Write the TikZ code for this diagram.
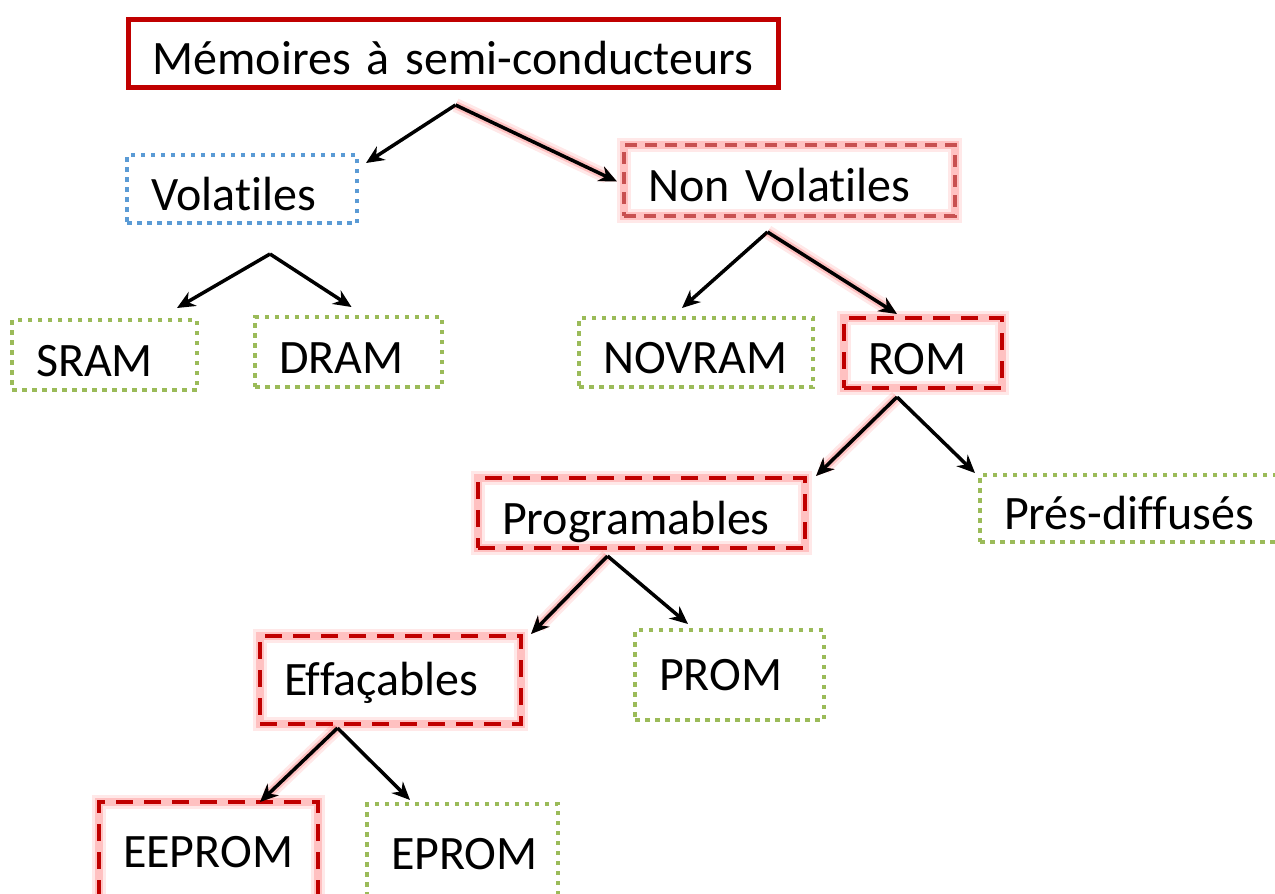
\documentclass[tikz,border=0pt]{standalone}
\usepackage{fontspec}
\setmainfont{Carlito}[Ligatures=NoCommon]
\usetikzlibrary{arrows.meta,calc}

\definecolor{boxred}{RGB}{192,0,0}
\definecolor{softred}{RGB}{200,80,80}
\definecolor{boxblue}{RGB}{91,155,213}
\definecolor{boxgreen}{RGB}{155,187,89}

\newcommand\boxfont{\fontsize{48}{58}\selectfont\parindent=0pt\spaceskip=11pt\parfillskip=0pt plus 1fil\relax}

\tikzset{every picture/.style={line width=3.5pt}}
\tikzset{
  glow/.style={preaction={draw=red,solid,line width=14pt,opacity=0.09},
               preaction={draw=red,solid,line width=8pt,opacity=0.17}},
  box/.style={anchor=north west,inner sep=0pt,
              font=\boxfont,text height=44pt,text depth=2pt},
  tall/.style={text height=37pt,text depth=7pt},
  rootbox/.style={box,draw=boxred,line width=5pt},
  hotbox/.style={box,draw=boxred,line width=4pt,dash pattern=on 17pt off 11pt,glow},
  nvbox/.style={box,draw=softred,line width=4pt,dash pattern=on 12pt off 8pt,glow},
  voltbox/.style={box,draw=boxblue,line width=4pt,dash pattern=on 4.5pt off 5.5pt},
  leafbox/.style={box,draw=boxgreen,line width=4pt,dash pattern=on 4.5pt off 5.5pt},
  link/.style={-{Stealth[length=18pt,width=16pt]},line width=3.5pt},
}

\begin{document}
\begin{tikzpicture}[x=1pt,y=1pt,yscale=-1]
	\useasboundingbox (0,0) rectangle (1275,894);

	% Boxes
	\node[rootbox, minimum width=650, minimum height=68, text width=602] (mem) at (126,17) {Mémoires à semi-conducteurs};
	\node[voltbox, minimum width=230, minimum height=68, text width=182] (vol) at (125,153) {Volatiles};
	\node[nvbox, minimum width=331, minimum height=71, text width=283] (nvol) at (622,143) {Non Volatiles};
	\node[leafbox, minimum width=185, minimum height=70, text width=137] (sram) at (10,318) {SRAM};
	\node[leafbox, minimum width=187, minimum height=70, text width=139] (dram) at (253,315) {DRAM};
	\node[leafbox, minimum width=234, minimum height=69, text width=186] (novram) at (577,316) {NOVRAM};
	\node[hotbox, minimum width=158, minimum height=70, text width=110] (rom) at (842,316) {ROM};
	\node[hotbox, minimum width=327, minimum height=70, text width=279] (prog) at (476,476) {Programables};
	\node[leafbox, minimum width=320, minimum height=67, text width=272] (pres) at (978,473) {Prés-diffusés};
	\node[hotbox, tall, minimum width=261, minimum height=88, text width=213] (eff) at (258,634) {Effaçables};
	\node[leafbox, tall, minimum width=189, minimum height=90, text width=141] (prom) at (633,628) {PROM};
	\node[hotbox, tall, minimum width=219, minimum height=100, text width=171] (eeprom) at (97,800) {EEPROM};
	\node[leafbox, tall, minimum width=191, minimum height=100, text width=143] (eprom) at (365,802) {EPROM};

	% Fork points under each parent
	\coordinate (f0) at ($(mem.south)+(2,15)$);
	\coordinate (f1) at ($(vol.south)+(28,29)$);
	\coordinate (f2) at ($(nvol.south)+(-22,14)$);
	\coordinate (f3) at ($(rom.south)+(-26,7)$);
	\coordinate (f4) at ($(prog.south)+(-34,6)$);
	\coordinate (f5) at ($(eff.south)+(-53,2)$);

	% Arrows
	\draw[link] (f0) -- ($(vol.north east)+(7,10)$);
	\draw[link,glow] (f0) -- ($(nvol.west)+(-5,1)$);
	\draw[link] (f1) -- ($(sram.north east)+(-22,-10)$);
	\draw[link] (f1) -- ($(dram.north)+(3,-8)$);
	\draw[link] (f2) -- ($(novram.north)+(-14,-8)$);
	\draw[link,glow] (f2) -- ($(rom.north)+(-26,-2)$);
	\draw[link,glow] (f3) -- ($(prog.north east)+(9,0)$);
	\draw[link] (f3) -- ($(pres.north west)+(-3,0)$);
	\draw[link,glow] (f4) -- ($(eff.north east)+(8,0)$);
	\draw[link] (f4) -- ($(prom.north west)+(55,-4)$);
	\draw[link,glow] (f5) -- ($(eeprom.north east)+(-60,2)$);
	\draw[link] (f5) -- ($(eprom.north west)+(45,-2)$);

\end{tikzpicture}
\end{document}
